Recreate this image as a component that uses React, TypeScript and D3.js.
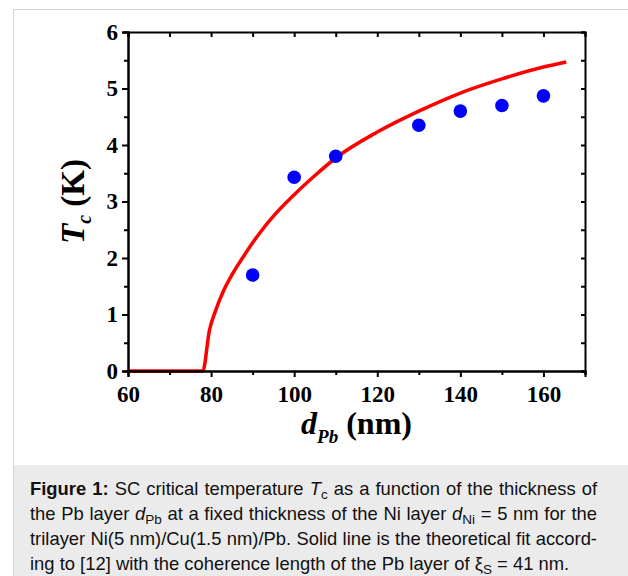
import { useEffect, useRef } from 'react';
import * as d3 from 'd3';

// measured points
const dPb = [90, 100, 110, 130, 140, 150, 160];
const tc = [1.7, 3.43, 3.8, 4.35, 4.6, 4.7, 4.87];

// theoretical fit
const fitX = [60, 78, 79.6, 81, 83, 85, 88, 90, 92, 95, 100, 105, 110, 120, 130, 140, 150, 160, 165.5];
const fitY = [0, 0, 0.72, 1.05, 1.42, 1.7, 2.05, 2.27, 2.47, 2.74, 3.12, 3.46, 3.77, 4.23, 4.6, 4.92, 5.17, 5.38, 5.47];

const xTicks = [60, 80, 100, 120, 140, 160];
const yTicks = [0, 1, 2, 3, 4, 5, 6];

const captionLines = [
  [{ t: 'Figure 1:', b: true }, { t: ' SC critical temperature ' }, { t: 'T', i: true }, { t: 'c', sub: true }, { t: ' as a function of the thickness of' }],
  [{ t: 'the Pb layer ' }, { t: 'd', i: true }, { t: 'Pb', sub: true }, { t: ' at a fixed thickness of the Ni layer ' }, { t: 'd', i: true }, { t: 'Ni', sub: true }, { t: ' = 5 nm for the' }],
  [{ t: 'trilayer Ni(5 nm)/Cu(1.5 nm)/Pb. Solid line is the theoretical fit accord-' }],
  [{ t: 'ing to [12] with the coherence length of the Pb layer of ξ' }, { t: 'S', sub: true }, { t: ' = 41 nm.' }],
];

const width = 628;
const height = 576;
const marginLeft = 128;
const marginRight = 43;
const marginTop = 32;
const plotBottom = 371;

const App = () => {
  const ref = useRef(null);

  useEffect(() => {
    const svg = d3.select(ref.current);
    svg.selectAll('*').remove();

    const x = d3.scaleLinear().domain([60, 170]).range([marginLeft, width - marginRight]);
    const y = d3.scaleLinear().domain([0, 6]).range([plotBottom, marginTop]);

    // frame + caption box
    svg.append('rect')
      .attr('x', 13.5).attr('y', 9.5).attr('width', 700).attr('height', 700)
      .attr('fill', 'white').attr('stroke', '#d6d6d6');
    svg.append('rect')
      .attr('x', 14).attr('y', 465).attr('width', 700).attr('height', 200)
      .attr('fill', '#ebebeb');

    const serif = '"Liberation Serif", "Times New Roman", serif';

    // fit curve
    const line = d3.line()
      .x(d => x(d[0]))
      .y(d => y(d[1]))
      .curve(d3.curveMonotoneX);
    svg.append('path')
      .datum(fitX.map((v, i) => [v, fitY[i]]))
      .attr('d', line)
      .attr('fill', 'none')
      .attr('stroke', '#ff0000')
      .attr('stroke-width', 3.5);

    // data points
    svg.append('g')
      .selectAll('circle')
      .data(dPb.map((v, i) => [v, tc[i]]))
      .join('circle')
      .attr('cx', d => x(d[0]))
      .attr('cy', d => y(d[1]))
      .attr('r', 6.8)
      .attr('fill', '#0000ff');

    const styleAxis = g => {
      g.select('.domain').attr('stroke-width', 2);
      g.selectAll('.tick line').attr('stroke-width', 2);
      g.selectAll('text')
        .attr('font-family', serif)
        .attr('font-weight', 'bold')
        .attr('font-size', 23)
        .attr('fill', 'black');
    };

    // bottom axis: minor then major
    svg.append('g')
      .attr('transform', `translate(0,${plotBottom})`)
      .call(d3.axisBottom(x).tickValues(d3.range(70, 171, 20)).tickSize(4).tickFormat(() => ''))
      .call(styleAxis);
    svg.append('g')
      .attr('transform', `translate(0,${plotBottom})`)
      .call(d3.axisBottom(x).tickValues(xTicks).tickSize(6).tickPadding(9).tickFormat(d3.format('d')))
      .call(styleAxis);

    // left axis
    svg.append('g')
      .attr('transform', `translate(${marginLeft},0)`)
      .call(d3.axisLeft(y).tickValues(d3.range(0.5, 6, 1)).tickSize(4).tickFormat(() => ''))
      .call(styleAxis);
    svg.append('g')
      .attr('transform', `translate(${marginLeft},0)`)
      .call(d3.axisLeft(y).tickValues(yTicks).tickSize(6).tickPadding(4).tickFormat(d3.format('d')))
      .call(styleAxis);

    // top axis, ticks inward
    svg.append('g')
      .attr('transform', `translate(0,${marginTop})`)
      .call(d3.axisTop(x).tickValues(d3.range(60, 171, 10)).tickSize(-5).tickFormat(() => ''))
      .call(styleAxis);

    // right axis, ticks inward
    svg.append('g')
      .attr('transform', `translate(${width - marginRight},0)`)
      .call(d3.axisRight(y).tickValues(d3.range(0, 6.01, 0.5)).tickSize(-4).tickFormat(() => ''))
      .call(styleAxis);

    // axis titles
    const xt = svg.append('text')
      .attr('x', (marginLeft + width - marginRight) / 2)
      .attr('y', 434)
      .attr('text-anchor', 'middle')
      .attr('font-family', serif)
      .attr('font-weight', 'bold')
      .attr('font-size', 32);
    xt.append('tspan').attr('font-style', 'italic').text('d');
    xt.append('tspan').attr('font-style', 'italic').attr('font-size', 19).attr('dy', 9).text('Pb');
    xt.append('tspan').attr('dy', -9).text(' (nm)');

    const yt = svg.append('text')
      .attr('transform', `translate(84,${(marginTop + plotBottom) / 2}) rotate(-90)`)
      .attr('text-anchor', 'middle')
      .attr('font-family', serif)
      .attr('font-weight', 'bold')
      .attr('font-size', 33);
    yt.append('tspan').attr('font-style', 'italic').text('T');
    yt.append('tspan').attr('font-style', 'italic').attr('font-size', 20).attr('dy', 7).text('c');
    yt.append('tspan').attr('dy', -7).text(' (K)');

    // caption
    const sans = '"Liberation Sans", Arial, Helvetica, sans-serif';
    captionLines.forEach((segs, li) => {
      const t = svg.append('text')
        .attr('x', 30)
        .attr('y', 495 + li * 25)
        .attr('font-family', sans)
        .attr('font-size', 18.4)
        .attr('fill', '#111');
      let shift = 0;
      segs.forEach(s => {
        const sp = t.append('tspan').text(s.t);
        if (s.b) sp.attr('font-weight', 'bold');
        if (s.i) sp.attr('font-style', 'italic');
        if (s.sub) {
          sp.attr('font-size', 13.5).attr('dy', 4);
          shift = 4;
        } else if (shift) {
          sp.attr('dy', -shift);
          shift = 0;
        }
      });
      // justify all but last line
      if (li < captionLines.length - 1) {
        const node = t.node();
        const len = node.getComputedTextLength();
        const spaces = segs.map(s => s.t).join('').split(' ').length - 1;
        const extra = (567 - len) / spaces;
        t.attr('word-spacing', extra);
      }
    });
  }, []);

  return (
    <svg
      ref={ref}
      width={width}
      height={height}
      viewBox={`0 0 ${width} ${height}`}
      style={{ position: 'absolute', left: 0, top: 0, background: 'white' }}
    />
  );
};

export default App;
